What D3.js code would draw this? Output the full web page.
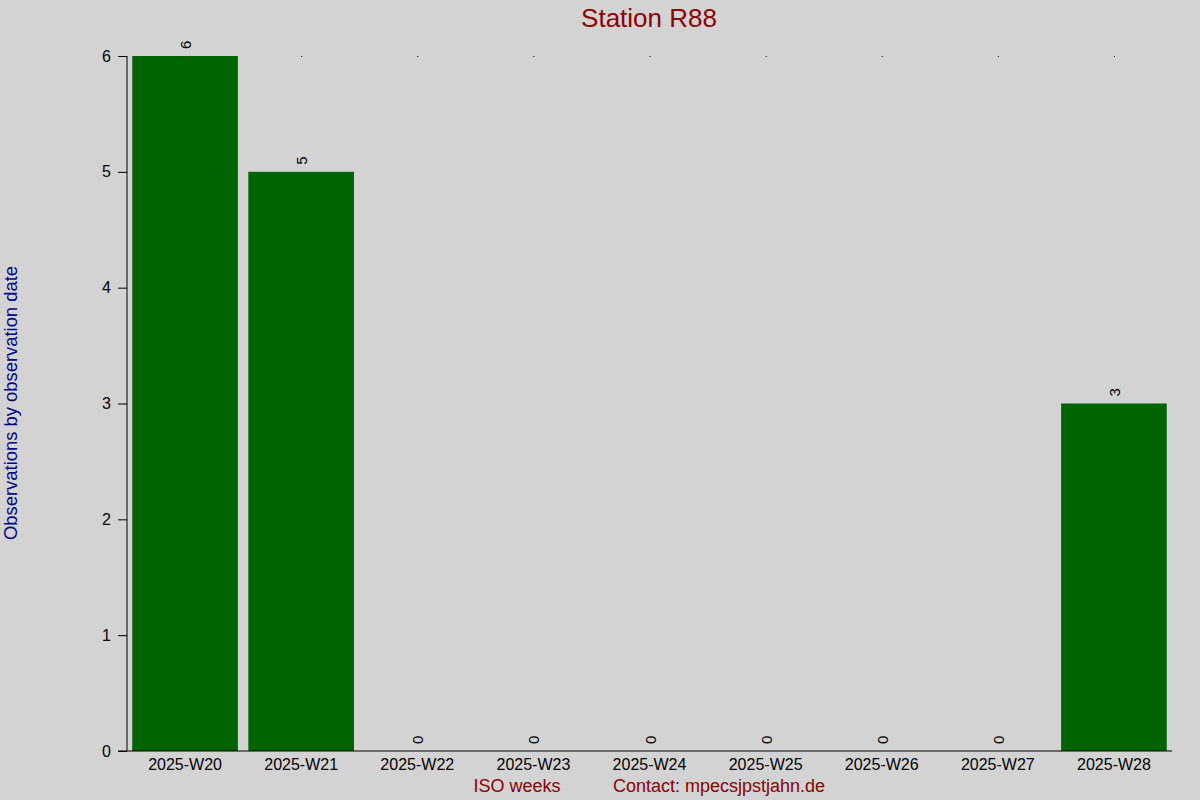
<!DOCTYPE html>
<html><head><meta charset="utf-8">
<script src="https://cdn.jsdelivr.net/npm/d3@7"></script>
<style>body{margin:0;background:#d3d3d3;}svg{display:block;font-family:Arial,"Liberation Sans",sans-serif;}</style>
</head><body>
<script>
const categories = ["2025-W20","2025-W21","2025-W22","2025-W23","2025-W24","2025-W25","2025-W26","2025-W27","2025-W28"];
const values = [6,5,0,0,0,0,0,0,3];
const yTicks = [0,1,2,3,4,5,6];
const title = "Station R88";
const yTitle = "Observations by observation date";
const xTitle = "ISO weeks";
const contact = "Contact: mpecsjpstjahn.de";

const W=1200,H=800;
const svg=d3.select("body").append("svg").attr("width",W).attr("height",H);
svg.append("rect").attr("width",W).attr("height",H).attr("fill","#d3d3d3");

const x=d3.scaleBand().domain(categories).range([127,1172]).paddingInner(0.09).paddingOuter(0.045);
const y=d3.scaleLinear().domain([0,6]).range([751,56]);

// bars
svg.selectAll("rect.bar").data(values).join("rect").attr("class","bar")
  .attr("x",(d,i)=>x(categories[i])).attr("width",x.bandwidth())
  .attr("y",d=>y(d)).attr("height",d=>y(0)-y(d)).attr("fill","#006400");

// tiny dots at top
svg.selectAll("rect.dot").data(categories).join("rect").attr("class","dot")
  .attr("x",d=>x(d)+x.bandwidth()/2).attr("y",y(6)).attr("width",1).attr("height",1).attr("fill","#000");

// value labels
svg.selectAll("text.val").data(values).join("text").attr("class","val")
  .attr("transform",(d,i)=>`translate(${x(categories[i])+x.bandwidth()/2+6},${y(d)-7}) rotate(-90)`)
  .attr("font-size",15).attr("fill","#000").text(d=>d);

// y axis
const ya=svg.append("g").attr("transform","translate(127,0)")
  .call(d3.axisLeft(y).tickValues(yTicks).tickFormat(d3.format("d")).tickSize(9).tickPadding(7));
ya.select(".domain").attr("d",`M0,${y(0)}V${y(6)}`).attr("stroke","#000");
ya.selectAll("text").attr("font-size",16).attr("fill","#000").attr("font-family","Arial,'Liberation Sans',sans-serif");
ya.selectAll("line").attr("stroke","#000");

// x axis
const xa=svg.append("g").attr("transform",`translate(0,${y(0)})`)
  .call(d3.axisBottom(x).tickSize(0).tickPadding(8));
xa.select(".domain").attr("d","M118,0H1172").attr("stroke","#000");
xa.selectAll("text").attr("font-size",16).attr("fill","#000").attr("font-family","Arial,'Liberation Sans',sans-serif");

// titles
svg.append("text").attr("x",649).attr("y",27).attr("text-anchor","middle").attr("font-size",26).attr("fill","#8b0000").text(title);
svg.append("text").attr("transform","translate(17,403) rotate(-90)").attr("text-anchor","middle").attr("font-size",18.4).attr("fill","#00008b").text(yTitle);
svg.append("text").attr("x",517).attr("y",792).attr("text-anchor","middle").attr("font-size",18).attr("fill","#8b0000").text(xTitle);
svg.append("text").attr("x",613).attr("y",792).attr("font-size",18).attr("fill","#8b0000").text(contact);
</script>
</body></html>
